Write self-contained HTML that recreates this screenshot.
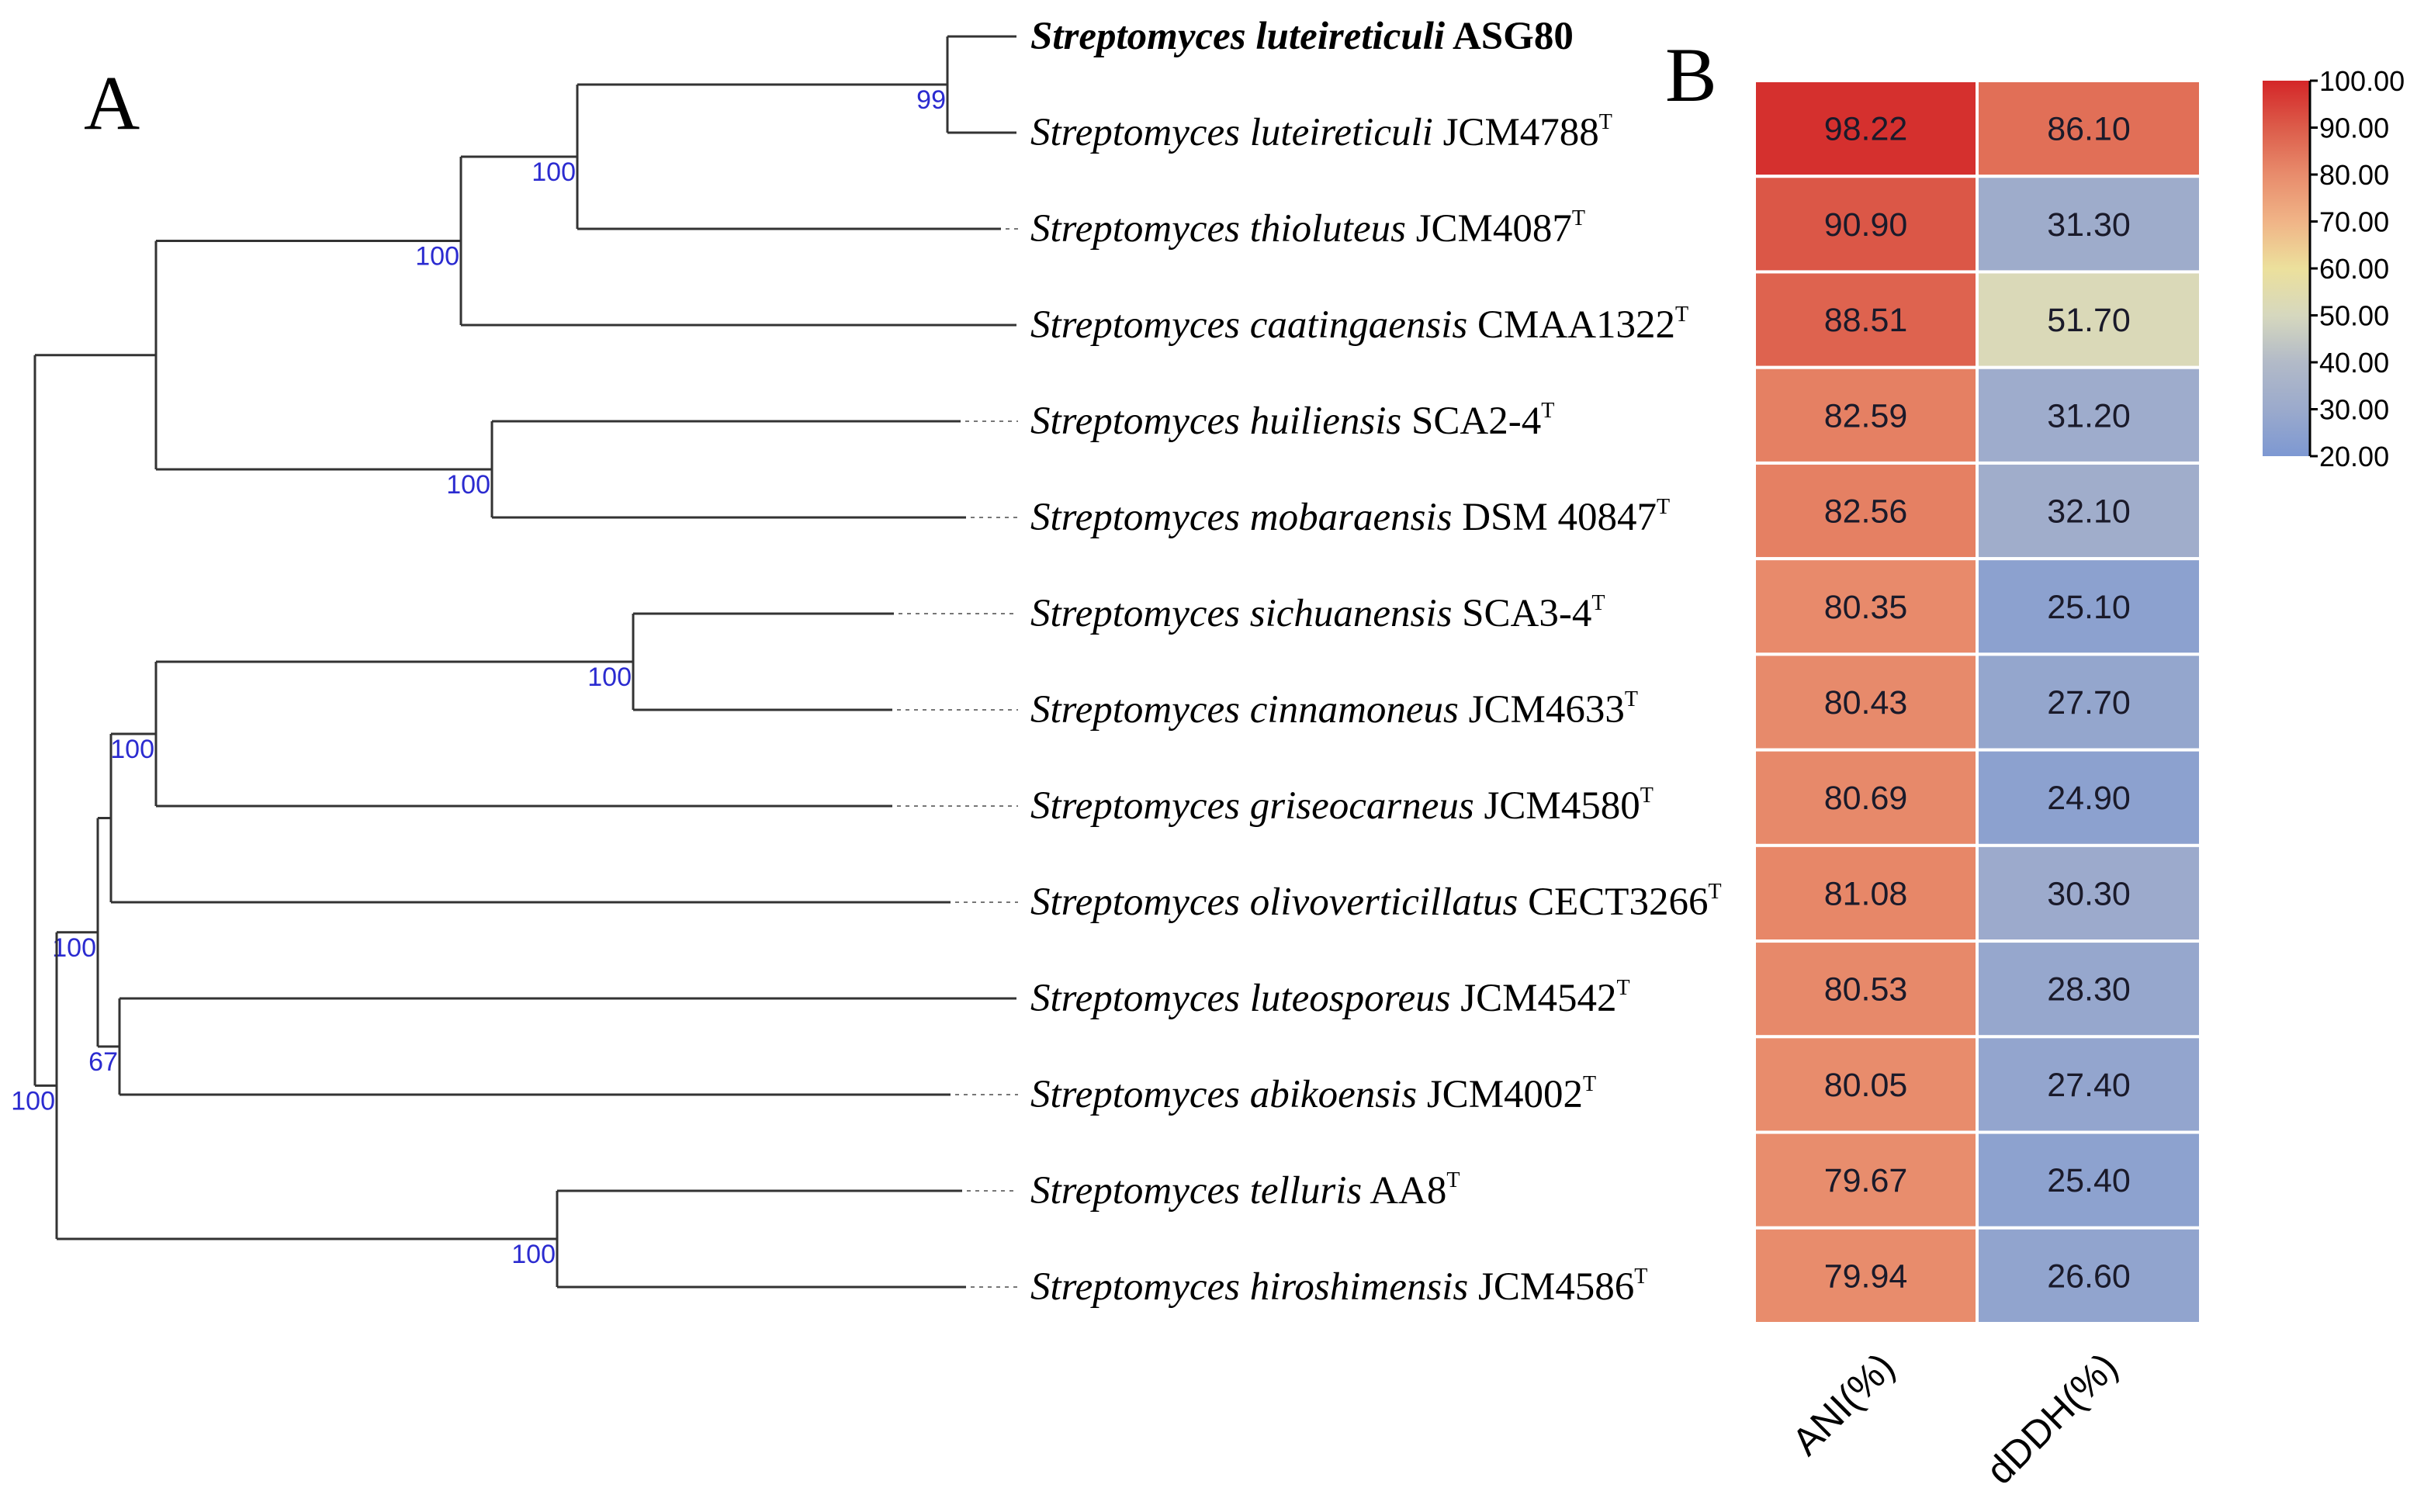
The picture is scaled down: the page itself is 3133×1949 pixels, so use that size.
<!DOCTYPE html>
<html><head><meta charset="utf-8"><style>
html,body{margin:0;padding:0;background:#fff;}
svg{display:block;}
</style></head><body>
<svg id="fig" width="3133" height="1949" viewBox="0 0 3133 1949" xmlns="http://www.w3.org/2000/svg">
<rect width="3133" height="1949" fill="#fff"/>
<text x="108" y="166" font-family="Liberation Serif, serif" font-size="100">A</text>
<text x="2146" y="130" font-family="Liberation Serif, serif" font-size="100">B</text>
<g id="tree"></g>
<g id="heat"></g>
<g id="cbar"></g>
</svg>
<script>
const species = ["luteireticuli","luteireticuli","thioluteus","caatingaensis","huiliensis","mobaraensis","sichuanensis","cinnamoneus","griseocarneus","olivoverticillatus","luteosporeus","abikoensis","telluris","hiroshimensis"];
const strains = ["ASG80","JCM4788","JCM4087","CMAA1322","SCA2-4","DSM 40847","SCA3-4","JCM4633","JCM4580","CECT3266","JCM4542","JCM4002","AA8","JCM4586"];
const solidEnds = [1310,1310,1290,1310,1238,1245,1152,1150,1150,1225,1310,1225,1240,1245];
const heatCols = ["ANI(%)","dDDH(%)"];
const aniValues = [98.22,90.90,88.51,82.59,82.56,80.35,80.43,80.69,81.08,80.53,80.05,79.67,79.94];
const ddhValues = [86.10,31.30,51.70,31.20,32.10,25.10,27.70,24.90,30.30,28.30,27.40,25.40,26.60];
const scaleTicks = [100,90,80,70,60,50,40,30,20];
const treeData = {x:45,b:null,c:[
  {x:201,b:null,c:[
    {x:594,b:"100",c:[{x:744,b:"100",c:[{x:1221,b:"99",c:[0,1]},2]},3]},
    {x:634,b:"100",c:[4,5]}]},
  {x:73,b:"100",c:[
    {x:126,b:"100",c:[
      {x:143,b:null,c:[{x:201,b:"100",c:[{x:816,b:"100",c:[6,7]},8]},9]},
      {x:154,b:"67",c:[10,11]}]},
    {x:718,b:"100",c:[12,13]}]}]};

const NS="http://www.w3.org/2000/svg";
function mk(tag,attrs,parent){const e=document.createElementNS(NS,tag);for(const k in attrs)e.setAttribute(k,attrs[k]);parent.appendChild(e);return e;}
const leafY=i=>47+124*i;
const tree=document.getElementById('tree');
const stroke="#333";
function draw(node,parentX){
  let ys=node.c.map(ch=>{
    if(typeof ch==="number"){
      const y=leafY(ch);
      const l=mk('line',{x1:node.x,y1:y,x2:solidEnds[ch],y2:y,stroke:stroke,'stroke-width':3},tree);
      
      
      if(solidEnds[ch]<1300){const d=mk('line',{x1:solidEnds[ch]+6,y1:y,x2:1312,y2:y,stroke:"#777",'stroke-width':2,'stroke-dasharray':'5 6'},tree);
        
        }
      return y;}
    return draw(ch,node.x);
  });
  const y=(ys[0]+ys[ys.length-1])/2;
  const v=mk('line',{x1:node.x,y1:ys[0],x2:node.x,y2:ys[ys.length-1],stroke:stroke,'stroke-width':3},tree);
  
  
  if(parentX!==null){const h=mk('line',{x1:parentX,y1:y,x2:node.x,y2:y,stroke:stroke,'stroke-width':3},tree);
    
    }
  if(node.b){const t=mk('text',{x:node.x-2,y:y+31,'text-anchor':'end','font-family':'Liberation Sans, sans-serif','font-size':34,fill:'#2b2bd0'},tree);
    t.textContent=node.b;
    
    }
  return y;
}
draw(treeData,null);
species.forEach((s,i)=>{
  const t=mk('text',{x:1328,y:leafY(i)+16,'font-family':'Liberation Serif, serif','font-size':51,fill:'#000'},tree);
  
  
  const a=mk('tspan',{'font-style':'italic'},t);a.textContent='Streptomyces '+s;
  if(i===0){t.setAttribute('font-weight','bold');}
  const b=mk('tspan',{},t);b.textContent=' '+strains[i];
  if(i>0){const sup=mk('tspan',{'font-size':28,dy:-21},t);sup.textContent='T';}
});

const stops=[[20,[125,152,210]],[30,[155,170,204]],[40,[178,186,200]],[50,[214,216,190]],[60,[236,224,156]],[70,[240,180,135]],[80,[232,140,108]],[90,[220,92,74]],[100,[212,38,40]]];
function color(v){v=Math.max(20,Math.min(100,v));for(let i=0;i<stops.length-1;i++){const[a,ca]=stops[i],[b,cb]=stops[i+1];if(v<=b){const t=(v-a)/(b-a);return 'rgb('+ca.map((c,k)=>Math.round(c+(cb[k]-c)*t)).join(',')+')';}}}
const heat=document.getElementById('heat');
const hx0=2261,hx1=2548,hx2=2836,hy0=104,hy1=1706;
const rowH=(hy1-hy0)/aniValues.length;
const colX=[hx0,hx1],colW=[hx1-hx0,hx2-hx1];
[aniValues,ddhValues].forEach((arr,c)=>{
  arr.forEach((v,r)=>{
    const rc=mk('rect',{x:colX[c],y:hy0+r*rowH,width:colW[c],height:rowH,fill:color(v),stroke:'#fff','stroke-width':4},heat);
    
    
    const t=mk('text',{x:colX[c]+colW[c]/2,y:hy0+r*rowH+rowH/2+15,'text-anchor':'middle','font-family':'Liberation Sans, sans-serif','font-size':43,fill:'#1a1a2a'},heat);
    t.textContent=v.toFixed(2);
    
    
  });
  const lx=colX[c]+colW[c]/2+40, ly=1765;
  const t=mk('text',{x:lx,y:ly,'text-anchor':'end','font-family':'Liberation Sans, sans-serif','font-size':50,transform:'rotate(-45 '+lx+' '+ly+')'},heat);
  t.textContent=heatCols[c];
  
  
});

const cbar=document.getElementById('cbar');
const cx0=2916,cx1=2977,cy0=104,cy1=588;
const defs=mk('defs',{},cbar);
const g=mk('linearGradient',{id:'grad',x1:0,y1:1,x2:0,y2:0},defs);
stops.forEach(s=>{mk('stop',{offset:((s[0]-20)/80),'stop-color':color(s[0])},g);});
const cr=mk('rect',{x:cx0,y:cy0,width:cx1-cx0,height:cy1-cy0,fill:'url(#grad)'},cbar);


mk('line',{x1:cx1,y1:cy0,x2:cx1,y2:cy1,stroke:'#000','stroke-width':3},cbar);
const sy=v=>cy1-(v-20)/80*(cy1-cy0);
scaleTicks.forEach(v=>{
  mk('line',{x1:cx1,y1:sy(v),x2:cx1+10,y2:sy(v),stroke:'#000','stroke-width':3},cbar);
  const t=mk('text',{x:cx1+12,y:sy(v)+13,'font-family':'Liberation Sans, sans-serif','font-size':36},cbar);
  t.textContent=v.toFixed(2);
  
  
});
</script>
</body></html>
